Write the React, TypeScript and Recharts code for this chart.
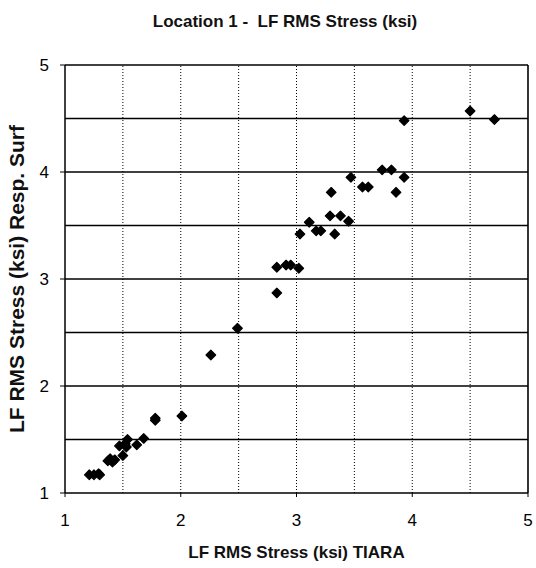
import React from 'react';
import { ScatterChart, Scatter, XAxis, YAxis, ReferenceLine, Label } from 'recharts';

// LF RMS stress at location 1: TIARA prediction vs. response-surface estimate (ksi)
const tiara = [
  4.5, 4.71, 3.93, 3.74, 3.82, 3.47, 3.93, 3.57, 3.62, 3.3, 3.86,
  3.29, 3.38, 3.45, 3.11, 3.17, 3.21, 3.03, 3.33,
  2.83, 2.91, 2.95, 3.02, 2.83, 2.49, 2.26,
  2.01, 1.78, 1.78, 1.68, 1.62, 1.54, 1.52, 1.53, 1.47, 1.5,
  1.43, 1.39, 1.37, 1.41, 1.21, 1.25, 1.29, 1.3,
];
const respSurf = [
  4.57, 4.49, 4.48, 4.02, 4.02, 3.95, 3.95, 3.86, 3.86, 3.81, 3.81,
  3.59, 3.59, 3.54, 3.53, 3.45, 3.45, 3.42, 3.42,
  3.11, 3.13, 3.13, 3.1, 2.87, 2.54, 2.29,
  1.72, 1.7, 1.68, 1.51, 1.45, 1.5, 1.46, 1.43, 1.44, 1.35,
  1.31, 1.32, 1.3, 1.29, 1.17, 1.17, 1.18, 1.17,
];

const axisTicks = [1, 2, 3, 4, 5];
const gridSteps = [1.5, 2, 2.5, 3, 3.5, 4, 4.5, 5];

const points = tiara.map((x, i) => ({ x, y: respSurf[i] }));

const FONT = "Arial, 'Liberation Sans', sans-serif";

const Diamond = (props: any) => {
  const { cx, cy } = props;
  const r = 4.8;
  return (
    <polygon
      points={`${cx},${cy - r} ${cx + r},${cy} ${cx},${cy + r} ${cx - r},${cy}`}
      fill="#000"
      stroke="#000"
      strokeWidth={1.2}
      strokeLinejoin="round"
    />
  );
};

export default function App() {
  return (
    <div style={{ position: 'absolute', left: 0, top: 0, width: 536, height: 568, background: '#fff' }}>
      <div
        style={{
          position: 'absolute',
          left: 0,
          top: 12,
          width: 570,
          textAlign: 'center',
          fontFamily: FONT,
          fontWeight: 'bold',
          fontSize: 17,
          color: '#111',
          whiteSpace: 'pre',
        }}
      >
        {'Location 1 -  LF RMS Stress (ksi)'}
      </div>
      <ScatterChart width={536} height={568} margin={{ top: 65, right: 8, bottom: 0, left: 0 }}>
        <XAxis
          type="number"
          dataKey="x"
          domain={[1, 5]}
          ticks={axisTicks}
          interval={0}
          height={75}
          axisLine={{ stroke: '#000', strokeWidth: 1.5 }}
          tickLine={{ stroke: '#000' }}
          tickSize={4}
          tickMargin={17}
          tick={{ fill: '#000', fontSize: 17, fontFamily: FONT }}
        >
          <Label
            value="LF RMS Stress (ksi) TIARA"
            position="insideBottom"
            offset={10}
            style={{ fontFamily: FONT, fontWeight: 'bold', fontSize: 17, fill: '#111' }}
          />
        </XAxis>
        <YAxis
          type="number"
          dataKey="y"
          domain={[1, 5]}
          ticks={axisTicks}
          interval={0}
          width={65}
          axisLine={{ stroke: '#000', strokeWidth: 1.5 }}
          tickLine={{ stroke: '#000' }}
          tickSize={5}
          tickMargin={11}
          tick={{ fill: '#000', fontSize: 17, fontFamily: FONT }}
        >
          <Label
            value="LF RMS Stress (ksi) Resp. Surf"
            angle={-90}
            position="insideLeft"
            offset={17}
            style={{ textAnchor: 'middle', fontFamily: FONT, fontWeight: 'bold', fontSize: 21, fill: '#111' }}
          />
        </YAxis>
        {gridSteps.map((v) => (
          <ReferenceLine
            key={`h${v}`}
            y={v}
            stroke="#000"
            strokeWidth={v === 5 ? 1.6 : 1.3}
            ifOverflow="extendDomain"
          />
        ))}
        {gridSteps.map((v) => (
          <ReferenceLine
            key={`v${v}`}
            x={v}
            stroke="#000"
            strokeWidth={v === 5 ? 1.6 : 1}
            strokeDasharray={v === 5 ? undefined : '1 2'}
            ifOverflow="extendDomain"
          />
        ))}
        <Scatter data={points} shape={<Diamond />} isAnimationActive={false} />
      </ScatterChart>
    </div>
  );
}
